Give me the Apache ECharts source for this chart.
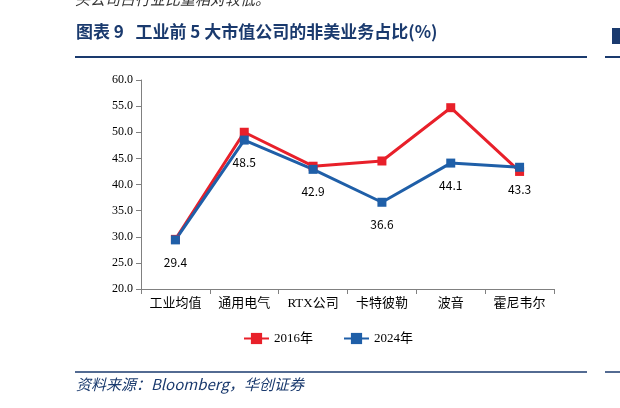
<!DOCTYPE html>
<html>
<head>
<meta charset="utf-8">
<script src="https://cdn.jsdelivr.net/npm/echarts@6/dist/echarts.min.js"></script>
<style>html,body{margin:0;padding:0;background:#fff}#main{width:620px;height:408px}</style>
</head>
<body>
<div id="main"></div>
<script>
// 数据
var categories = ['工业均值', '通用电气', 'RTX公司', '卡特彼勒', '波音', '霍尼韦尔'];
var series2016 = [29.5, 50.0, 43.5, 44.5, 54.7, 42.5];
var series2024 = [29.4, 48.5, 42.9, 36.6, 44.1, 43.3];
var yTicks = {min: 20, max: 60, interval: 5};

var chart = echarts.init(document.getElementById('main'));
var cjk = '"Noto Sans CJK SC", sans-serif';
var serif = '"Liberation Serif", "Noto Sans CJK SC", serif';

var option = {
    animation: false,
    grid: {left: 141, right: 66, top: 80, bottom: 119},
    legend: {
        bottom: 58, left: 238, itemGap: 30,
        data: ['2016年', '2024年'],
        textStyle: {fontFamily: serif, fontSize: 13, color: '#000'}
    },
    xAxis: {
        type: 'category', data: categories,
        axisLine: {lineStyle: {color: '#808080'}},
        axisTick: {show: true, lineStyle: {color: '#808080'}},
        axisLabel: {fontFamily: serif, fontSize: 13, color: '#000', interval: 0}
    },
    yAxis: {
        type: 'value', min: yTicks.min, max: yTicks.max, interval: yTicks.interval,
        splitLine: {show: false},
        axisLine: {show: true, lineStyle: {color: '#808080'}},
        axisTick: {show: true, lineStyle: {color: '#808080'}},
        axisLabel: {fontFamily: serif, fontSize: 12, color: '#000', formatter: function (v) { return v.toFixed(1); }}
    },
    series: [
        {
            name: '2016年', type: 'line', data: series2016,
            symbol: 'rect', symbolSize: 9,
            lineStyle: {color: '#e8202a', width: 3}, itemStyle: {color: '#e8202a'}
        },
        {
            name: '2024年', type: 'line', data: series2024,
            symbol: 'rect', symbolSize: 9,
            lineStyle: {color: '#1f5fa8', width: 3}, itemStyle: {color: '#1f5fa8'},
            label: {show: true, position: 'bottom', distance: 12, fontFamily: cjk, fontSize: 12, color: '#000',
                formatter: function (p) { return p.value.toFixed(1); }}
        }
    ],
    graphic: [
        {type: 'text', left: 75, top: -8, style: {text: '头公司占行业比重相对较低。', font: 'italic 15px "Noto Sans CJK SC"', fill: '#333'}},
        {type: 'text', left: 76, top: 23, style: {text: '图表 9   工业前 5 大市值公司的非美业务占比(%)', font: 'bold 17px "Noto Sans CJK SC"', fill: '#1a3a6e'}},
        {type: 'line', shape: {x1: 75, y1: 57, x2: 587, y2: 57}, style: {stroke: '#1a3a6e', lineWidth: 2}},
        {type: 'line', shape: {x1: 75, y1: 372, x2: 587, y2: 372}, style: {stroke: '#1a3a6e', lineWidth: 1.5}},
        {type: 'text', left: 76, top: 377, style: {text: '资料来源：Bloomberg，华创证券', font: 'italic 15px "Noto Sans CJK SC"', fill: '#1a3a6e'}},
        {type: 'rect', shape: {x: 612, y: 28, width: 8, height: 16}, style: {fill: '#1a3a6e'}},
        {type: 'line', shape: {x1: 605, y1: 57, x2: 620, y2: 57}, style: {stroke: '#1a3a6e', lineWidth: 2}},
        {type: 'line', shape: {x1: 605, y1: 372, x2: 620, y2: 372}, style: {stroke: '#1a3a6e', lineWidth: 1.5}}
    ]
};
chart.setOption(option);
window.addEventListener('resize', chart.resize);
</script>
</body>
</html>
